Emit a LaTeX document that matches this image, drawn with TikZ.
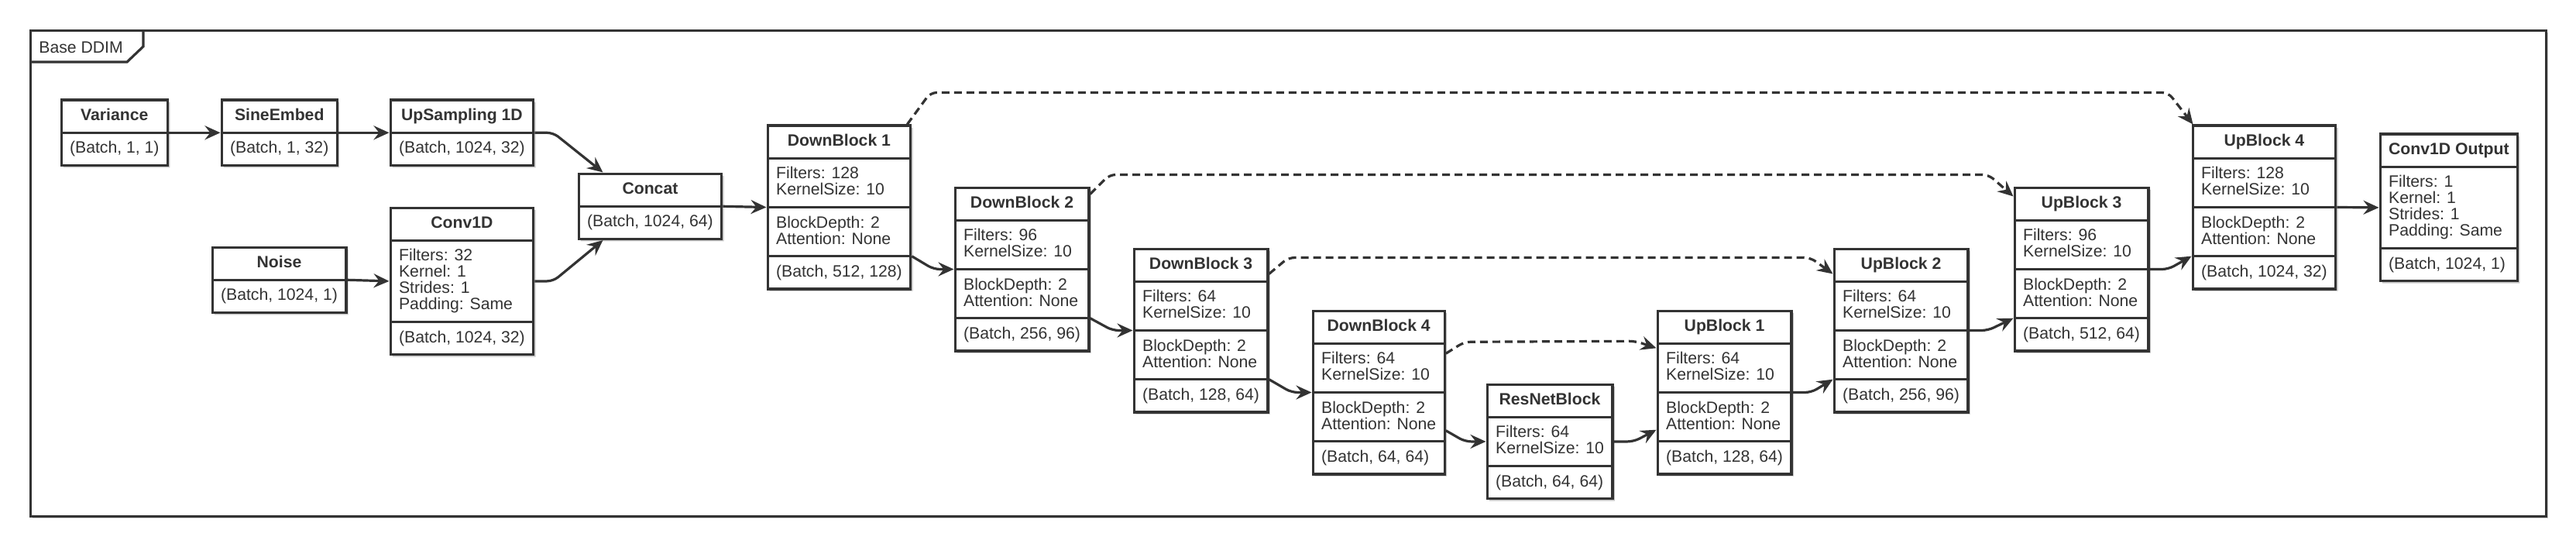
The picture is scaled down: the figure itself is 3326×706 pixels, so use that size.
\documentclass[tikz,border=0pt]{standalone}
\usepackage{fontspec}
\setmainfont{Liberation Sans}
\usetikzlibrary{arrows.meta,shapes.multipart,calc,shadows}

\definecolor{ink}{HTML}{333333}
\newcommand{\rowstrut}{\rule[-2.5pt]{0pt}{10.5pt}}
\newcommand{\blkhead}[1]{\textbf{\rowstrut#1\rowstrut}}
\newcommand{\blkrows}[1]{\rowstrut#1\rowstrut}

\tikzset{
  soft/.style={drop shadow={shadow xshift=1.4pt, shadow yshift=-1.4pt, fill=black!22, opacity=1}},
  blk/.style={rectangle split, rectangle split parts=#1, draw=ink, fill=white, soft,
    line width=1.6pt, text=ink, align=left,
    rectangle split part align={center,left,left,left},
    inner xsep=5.5pt, inner ysep=4.5pt, anchor=north west,
    font=\fontsize{10.6}{10.5}\selectfont},
  flow/.style={draw=ink, line width=1.6pt, rounded corners=4pt,
    -{Stealth[length=10pt,width=9pt,inset=3.5pt]}},
  skip/.style={flow, dash pattern=on 5pt off 3pt},
  frame/.style={draw=ink, line width=1.6pt}
}

\begin{document}
\begin{tikzpicture}[x=0.5pt,y=-0.5pt]
  \useasboundingbox (0,0) rectangle (3326,706);

  % Frame
  \draw[frame, fill=white, soft] (39.6,39.6) rectangle (3287.4,666.4);
  \draw[frame] (39.6,80) -- (164,80) -- (185,60) -- (185,39.6);
  \node[anchor=west, inner sep=0pt, text=ink, font=\fontsize{10.6}{10.5}\selectfont] (title) at (50,61) {Base DDIM};

  % Inputs
  \node[blk=2] (var) at (77.5,127.5) {\blkhead{Variance}\nodepart{two}\blkrows{(Batch, 1, 1)}};
  \node[blk=2] (sine) at (284.5,127.5) {\blkhead{SineEmbed}\nodepart{two}\blkrows{(Batch, 1, 32)}};
  \node[blk=2] (ups) at (502.5,127.5) {\blkhead{UpSampling 1D}\nodepart{two}\blkrows{(Batch, 1024, 32)}};
  \node[blk=2] (noise) at (272.5,317.5) {\blkhead{Noise}\nodepart{two}\blkrows{(Batch, 1024, 1)}};
  \node[blk=3] (conv) at (502.5,266.5) {\blkhead{Conv1D}\nodepart{two}\blkrows{Filters: 32\\Kernel: 1\\Strides: 1\\Padding: Same}\nodepart{three}\blkrows{(Batch, 1024, 32)}};
  \node[blk=2] (concat) at (745.5,222.5) {\blkhead{Concat}\nodepart{two}\blkrows{(Batch, 1024, 64)}};

  % Down path
  \node[blk=4] (db1) at (989.5,160.5) {\blkhead{DownBlock 1}\nodepart{two}\blkrows{Filters: 128\\KernelSize: 10}\nodepart{three}\blkrows{BlockDepth: 2\\Attention: None}\nodepart{four}\blkrows{(Batch, 512, 128)}};
  \node[blk=4] (db2) at (1231.5,240.5) {\blkhead{DownBlock 2}\nodepart{two}\blkrows{Filters: 96\\KernelSize: 10}\nodepart{three}\blkrows{BlockDepth: 2\\Attention: None}\nodepart{four}\blkrows{(Batch, 256, 96)}};
  \node[blk=4] (db3) at (1462.5,319.5) {\blkhead{DownBlock 3}\nodepart{two}\blkrows{Filters: 64\\KernelSize: 10}\nodepart{three}\blkrows{BlockDepth: 2\\Attention: None}\nodepart{four}\blkrows{(Batch, 128, 64)}};
  \node[blk=4] (db4) at (1693.5,399.5) {\blkhead{DownBlock 4}\nodepart{two}\blkrows{Filters: 64\\KernelSize: 10}\nodepart{three}\blkrows{BlockDepth: 2\\Attention: None}\nodepart{four}\blkrows{(Batch, 64, 64)}};

  % Bottleneck
  \node[blk=3] (res) at (1918.5,494.5) {\blkhead{ResNetBlock}\nodepart{two}\blkrows{Filters: 64\\KernelSize: 10}\nodepart{three}\blkrows{(Batch, 64, 64)}};

  % Up path
  \node[blk=4] (ub1) at (2138.5,399.5) {\blkhead{UpBlock 1}\nodepart{two}\blkrows{Filters: 64\\KernelSize: 10}\nodepart{three}\blkrows{BlockDepth: 2\\Attention: None}\nodepart{four}\blkrows{(Batch, 128, 64)}};
  \node[blk=4] (ub2) at (2366.5,319.5) {\blkhead{UpBlock 2}\nodepart{two}\blkrows{Filters: 64\\KernelSize: 10}\nodepart{three}\blkrows{BlockDepth: 2\\Attention: None}\nodepart{four}\blkrows{(Batch, 256, 96)}};
  \node[blk=4] (ub3) at (2599.5,240.5) {\blkhead{UpBlock 3}\nodepart{two}\blkrows{Filters: 96\\KernelSize: 10}\nodepart{three}\blkrows{BlockDepth: 2\\Attention: None}\nodepart{four}\blkrows{(Batch, 512, 64)}};
  \node[blk=4] (ub4) at (2829.5,160.5) {\blkhead{UpBlock 4}\nodepart{two}\blkrows{Filters: 128\\KernelSize: 10}\nodepart{three}\blkrows{BlockDepth: 2\\Attention: None}\nodepart{four}\blkrows{(Batch, 1024, 32)}};
  \node[blk=3] (out) at (3071.5,171.5) {\blkhead{Conv1D Output}\nodepart{two}\blkrows{Filters: 1\\Kernel: 1\\Strides: 1\\Padding: Same}\nodepart{three}\blkrows{(Batch, 1024, 1)}};

  % Input connectors
  \draw[flow] (var.text split east) -- (sine.text split west);
  \draw[flow] (sine.text split east) -- (ups.text split west);
  \draw[flow] (ups.text split east) -- ++(24,0) -- ($(concat.north west)+(33,0)$);
  \draw[flow] (noise.text split east) -- ($(conv.text split west)!.5!(conv.two split west)$);
  \draw[flow] ($(conv.text split east)!.5!(conv.two split east)$) -- ++(24,0) -- ($(concat.south west)+(33,0)$);
  \draw[flow] (concat.text split east) -- (db1.two split west);

  % Down path connectors
  \draw[flow] (db1.three split east) -- ($(db2.two split west)+(-26,0)$) -- (db2.two split west);
  \draw[flow] (db2.three split east) -- ($(db3.two split west)+(-26,0)$) -- (db3.two split west);
  \draw[flow] (db3.three split east) -- ($(db4.two split west)+(-26,0)$) -- (db4.two split west);
  \draw[flow] ($(db4.three split east)+(0,-14)$) -- ($(res.text split west)!.5!(res.two split west)+(-27,0)$) -- ($(res.text split west)!.5!(res.two split west)$);

  % Up path connectors
  \draw[flow] ($(res.text split east)!.5!(res.two split east)$) -- ++(26,0) -- ($(ub1.three split west)+(0,-15)$);
  \draw[flow] (ub1.two split east) -- ++(24,0) -- (ub2.three split west);
  \draw[flow] (ub2.two split east) -- ++(24,0) -- (ub3.three split west);
  \draw[flow] (ub3.two split east) -- ++(24,0) -- (ub4.three split west);
  \draw[flow] (ub4.two split east) -- ($(out.text split west)!.5!(out.two split west)$);

  % Skip connections
  \draw[skip] ($(db1.north east)+(-6,0)$) -- ++(30,-41) -- ($(ub4.north west)+(-30,-41)$) -- ($(ub4.north west)+(2,0)$);
  \draw[skip] ($(db2.north east)+(0,10)$) -- ++(25,-25) -- ($(ub3.north west)+(-32,-15)$) -- ($(ub3.north west)+(0,13)$);
  \draw[skip] ($(db3.north east)+(0,34)$) -- ++(25,-21) -- ($(ub2.north west)+(-29,13)$) -- ($(ub2.north west)+(0,34)$);
  \draw[skip] ($(db4.text split east)+(0,13)$) -- ++(24,-15) -- ($(ub1.text split west)+(-27,-3)$) -- ($(ub1.text split west)+(0,6)$);
\end{tikzpicture}
\end{document}
